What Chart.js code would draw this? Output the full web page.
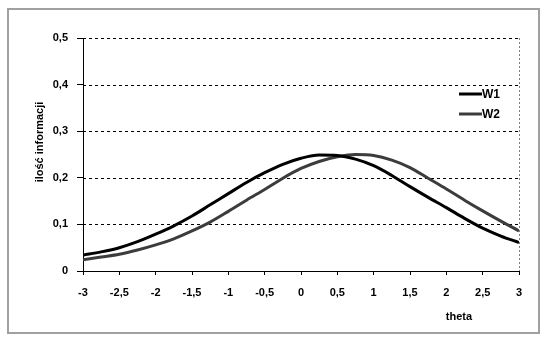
<!DOCTYPE html>
<html>
<head>
<meta charset="utf-8">
<script src="https://cdn.jsdelivr.net/npm/chart.js@4.4.1/dist/chart.umd.min.js"></script>
<style>
  html, body { margin: 0; padding: 0; background: #fff; }
  #wrap { width: 550px; height: 342px; position: relative; }
</style>
</head>
<body>
<div id="wrap"><canvas id="chart" width="550" height="342"></canvas></div>
<script>
// theta values and information
const theta = [-3, -2.75, -2.5, -2.25, -2, -1.75, -1.5, -1.25, -1, -0.75, -0.5, -0.25, 0,
  0.25, 0.5, 0.75, 1, 1.25, 1.5, 1.75, 2, 2.25, 2.5, 2.75, 3];
const w1 = [0.034, 0.041, 0.050, 0.063, 0.079, 0.097, 0.118, 0.142, 0.166, 0.190, 0.211, 0.229, 0.242,
  0.249, 0.248, 0.240, 0.226, 0.205, 0.181, 0.158, 0.136, 0.113, 0.092, 0.075, 0.061];
const w2 = [0.024, 0.030, 0.036, 0.045, 0.056, 0.069, 0.086, 0.105, 0.128, 0.152, 0.175, 0.199, 0.220,
  0.235, 0.245, 0.250, 0.248, 0.238, 0.222, 0.199, 0.176, 0.152, 0.129, 0.107, 0.086];
const seriesNames = ["W1", "W2"];
const seriesColors = ["#000000", "#3c3c3c"];

const FONT = "'Liberation Sans', Arial, sans-serif";
const fmt = v => String(Math.round(v * 10) / 10).replace(".", ",");

const toPoints = arr => arr.map((v, i) => ({ x: theta[i], y: v }));

// dashed grid, right border, frame, legend and axis titles
const decorations = {
  id: "decorations",
  beforeDatasetsDraw(chart) {
    const { ctx, chartArea: a, scales } = chart;
    ctx.save();
    ctx.lineWidth = 1;
    ctx.strokeStyle = "#000";
    ctx.setLineDash([3, 3]);
    [0.1, 0.2, 0.3, 0.4, 0.5].forEach(v => {
      const y = Math.round(scales.y.getPixelForValue(v)) + 0.5;
      ctx.beginPath();
      ctx.moveTo(a.left, y);
      ctx.lineTo(a.right, y);
      ctx.stroke();
    });
    ctx.strokeStyle = "#808080";
    ctx.setLineDash([2, 2]);
    const xr = Math.round(scales.x.getPixelForValue(3)) + 0.5;
    ctx.beginPath();
    ctx.moveTo(xr, a.top);
    ctx.lineTo(xr, a.bottom);
    ctx.stroke();
    ctx.restore();
  },
  afterDraw(chart) {
    const { ctx } = chart;
    ctx.save();
    // outer frame
    ctx.strokeStyle = "#a0a0a0";
    ctx.lineWidth = 2;
    ctx.strokeRect(8, 9, 531, 324);

    // legend
    ctx.font = "bold 12px " + FONT;
    ctx.textBaseline = "middle";
    ctx.textAlign = "left";
    seriesNames.forEach((name, i) => {
      const y = 94 + i * 20;
      ctx.strokeStyle = seriesColors[i];
      ctx.lineWidth = 3;
      ctx.beginPath();
      ctx.moveTo(459, y);
      ctx.lineTo(482, y);
      ctx.stroke();
      ctx.fillStyle = "#000";
      ctx.fillText(name, 482, y + 1);
    });

    // axis titles
    ctx.font = "bold 11px " + FONT;
    ctx.textAlign = "center";
    ctx.fillText("theta", 459, 317);
    ctx.translate(40, 142);
    ctx.rotate(-Math.PI / 2);
    ctx.fillText("ilość informacji", 0, 0);
    ctx.restore();
  }
};

new Chart(document.getElementById("chart"), {
  type: "line",
  data: {
    datasets: [
      { label: seriesNames[0], data: toPoints(w1), borderColor: seriesColors[0], borderWidth: 3, pointRadius: 0, tension: 0.4, cubicInterpolationMode: "monotone", fill: false },
      { label: seriesNames[1], data: toPoints(w2), borderColor: seriesColors[1], borderWidth: 3, pointRadius: 0, tension: 0.4, cubicInterpolationMode: "monotone", fill: false }
    ]
  },
  options: {
    responsive: false,
    animation: false,
    layout: { padding: { left: 0, right: 31, top: 38, bottom: 0 } },
    plugins: { legend: { display: false }, tooltip: { enabled: false } },
    scales: {
      x: {
        type: "linear",
        min: -3,
        max: 3,
        afterFit: s => { s.height = 71; },
        afterBuildTicks: s => { s.ticks = theta.filter((t, i) => i % 2 === 0).map(v => ({ value: v })); },
        ticks: { color: "#000", font: { family: FONT, size: 11, weight: "bold" }, padding: 11, maxRotation: 0, autoSkip: false, callback: fmt },
        grid: { drawOnChartArea: false, drawTicks: true, tickLength: 4, color: "#000" },
        border: { display: true, color: "#000", width: 1 }
      },
      y: {
        min: 0,
        max: 0.5,
        afterFit: s => { s.width = 83; },
        ticks: { stepSize: 0.1, color: "#000", font: { family: FONT, size: 11, weight: "bold" }, padding: 9, callback: fmt },
        grid: { drawOnChartArea: false, drawTicks: true, tickLength: 6, color: "#000" },
        border: { display: true, color: "#000", width: 1 }
      }
    }
  },
  plugins: [decorations]
});
</script>
</body>
</html>
